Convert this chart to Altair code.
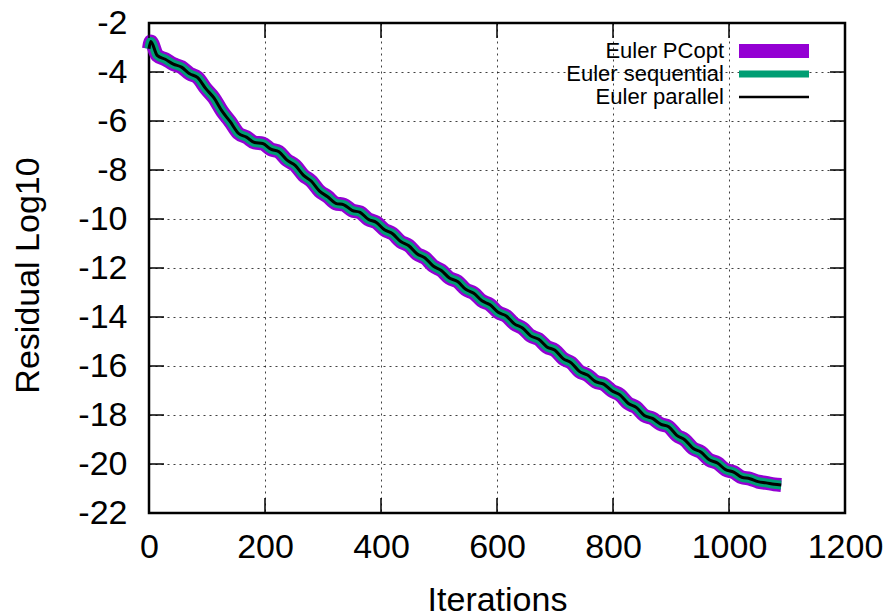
import altair as alt
import pandas as pd

# ---------------- data ----------------
iterations = [0, 3] + list(range(14, 1079, 14)) + [1090]

residual = [
    -3.05, -2.75,
    -3.32, -3.48, -3.68, -3.80, -4.07, -4.23, -4.68, -5.06, -5.60, -6.03,
    -6.50, -6.66, -6.88, -6.92, -7.15, -7.26, -7.60, -7.81, -8.21, -8.46,
    -8.86, -9.09, -9.36, -9.42, -9.65, -9.73, -10.01, -10.14, -10.44, -10.60,
    -10.92, -11.09, -11.42, -11.59, -11.92, -12.10, -12.41, -12.55, -12.87, -13.03,
    -13.34, -13.50, -13.81, -13.96, -14.28, -14.45, -14.77, -14.91, -15.22, -15.36,
    -15.70, -15.87, -16.22, -16.37, -16.64, -16.74, -17.01, -17.18, -17.52, -17.69,
    -18.02, -18.14, -18.37, -18.48, -18.83, -19.02, -19.36, -19.52, -19.83, -19.96,
    -20.23, -20.33, -20.54, -20.60, -20.72, -20.77, -20.83,
    -20.86,
]

residual_pcopt = residual
residual_sequential = residual
residual_parallel = residual

series_names = ["Euler PCopt", "Euler sequential", "Euler parallel"]
series_colors = ["#9400D3", "#009E73", "#000000"]
series_widths = [14, 9, 3]
legend_widths = [14, 7, 2.5]

x_ticks = [0, 200, 400, 600, 800, 1000, 1200]
y_ticks = [-22, -20, -18, -16, -14, -12, -10, -8, -6, -4, -2]

# ---------------- layout ----------------
W, H = 696, 490
FONT = "Liberation Sans"

xscale = alt.Scale(domain=[0, 1200], nice=False, zero=False)
yscale = alt.Scale(domain=[-22, -2], nice=False, zero=False)

all_series = [residual_pcopt, residual_sequential, residual_parallel]

layers = []

axis_df = pd.DataFrame({"it": [0, 1200], "r": [-22, -2]})
base = alt.Chart(axis_df).mark_point(opacity=0).encode(
    x=alt.X("it:Q", scale=xscale,
            axis=alt.Axis(values=x_ticks, title="Iterations", grid=True, ticks=False,
                          domain=False, labelFontSize=34, labelFont=FONT, labelColor="black",
                          labelPadding=17, labelFlush=False, labelExpr="'' + datum.value",
                          titleFontSize=34, titleFont=FONT, titleFontWeight="normal",
                          titleColor="black", titleY=87, titleBaseline="middle")),
    y=alt.Y("r:Q", scale=yscale,
            axis=alt.Axis(values=y_ticks, title="Residual Log10", grid=True, ticks=False,
                          domain=False, labelFontSize=34, labelFont=FONT, labelColor="black",
                          labelPadding=22, labelFlush=False, labelBaseline="middle",
                          labelExpr="'' + datum.value",
                          titleFontSize=34, titleFont=FONT, titleFontWeight="normal",
                          titleColor="black", titleX=-121, titleY=252,
                          titleAngle=270, titleBaseline="middle", titleAlign="center")),
)
layers.append(base)

for name, vals, col, w in zip(series_names, all_series, series_colors, series_widths):
    df = pd.DataFrame({"it": iterations, "r": vals, "series": name})
    layers.append(
        alt.Chart(df).mark_line(color=col, strokeWidth=w, interpolate="monotone",
                                strokeCap="butt", strokeJoin="round").encode(
            x=alt.X("it:Q", scale=xscale),
            y=alt.Y("r:Q", scale=yscale),
        )
    )

xt = pd.DataFrame({"t": x_ticks})
yt = pd.DataFrame({"t": y_ticks})
TL = 15
layers.append(alt.Chart(xt).mark_rule(color="black", strokeWidth=1.5).encode(
    x=alt.X("t:Q", scale=xscale), y=alt.value(H), y2=alt.value(H - TL)))
layers.append(alt.Chart(xt).mark_rule(color="black", strokeWidth=1.5).encode(
    x=alt.X("t:Q", scale=xscale), y=alt.value(0), y2=alt.value(TL)))
layers.append(alt.Chart(yt).mark_rule(color="black", strokeWidth=1.5).encode(
    y=alt.Y("t:Q", scale=yscale), x=alt.value(0), x2=alt.value(TL)))
layers.append(alt.Chart(yt).mark_rule(color="black", strokeWidth=1.5).encode(
    y=alt.Y("t:Q", scale=yscale), x=alt.value(W), x2=alt.value(W - TL)))

leg_y = [28, 51, 74]
for name, col, w, ly in zip(series_names, series_colors, legend_widths, leg_y):
    ldf = pd.DataFrame({"label": [name]})
    layers.append(alt.Chart(ldf).mark_text(align="right", baseline="middle", font=FONT,
                                          fontSize=22, color="black").encode(
        text="label:N", x=alt.value(575), y=alt.value(ly)))
    layers.append(alt.Chart(ldf).mark_rule(color=col, strokeWidth=w, strokeCap="butt").encode(
        x=alt.value(590), x2=alt.value(660), y=alt.value(ly)))

chart = alt.layer(*layers).properties(
    width=W, height=H,
    autosize=alt.AutoSizeParams(type="none"),
    padding={"left": 149, "top": 23, "right": 45, "bottom": 103},
).configure_view(
    stroke="black", strokeWidth=2.5
).configure_axis(
    gridColor="black", gridDash=[2, 4], gridWidth=1, gridOpacity=0.75
)

chart.save("out.html", embed_options={"renderer": "svg", "actions": False})
